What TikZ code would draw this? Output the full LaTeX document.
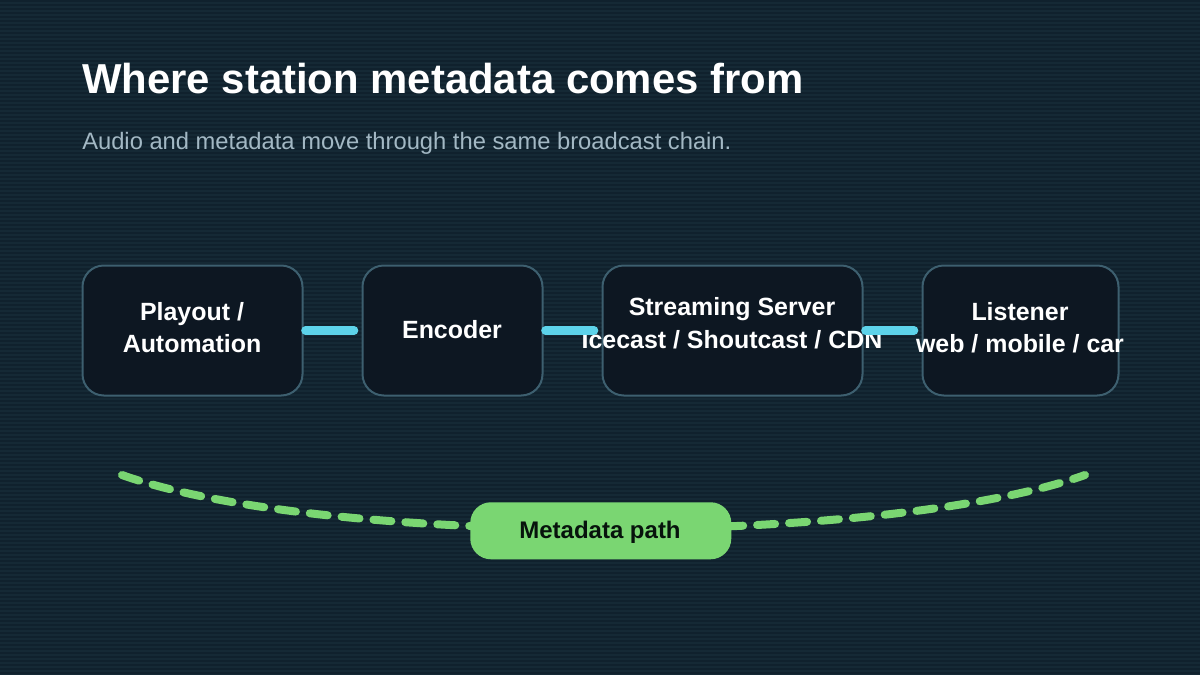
\documentclass[tikz,border=0pt]{standalone}
\usepackage{fontspec}
\setmainfont{Liberation Sans}
\definecolor{bgA}{HTML}{152935}
\definecolor{bgB}{HTML}{10212D}
\definecolor{boxfill}{HTML}{0D1722}
\definecolor{boxline}{HTML}{3D5F6F}
\definecolor{cyanline}{HTML}{5DD3EA}
\definecolor{greenline}{HTML}{7AD672}
\definecolor{subtext}{HTML}{A3B8C4}
\definecolor{darktext}{HTML}{07130C}
\tikzset{
  x=0.75pt,y=-0.75pt,
  stagebox/.style={draw=boxline,fill=boxfill,line width=1.5pt,rounded corners=16pt,inner sep=0,anchor=north west,minimum height=97.5pt},
  boxlabel/.style={text=white,inner sep=0,anchor=base,font=\bfseries\fontsize{18.7}{24}\selectfont},
  link/.style={draw=cyanline,line width=6.4pt,line cap=round,shorten <=1.5pt,shorten >=5.6pt},
  metapath/.style={draw=greenline,line width=6pt,line cap=round,dash pattern=on 13.5pt off 10.5pt},
  pill/.style={fill=greenline,rounded corners=15.5pt,inner sep=0,anchor=north west,minimum width=195.75pt,minimum height=42.75pt},
}
\begin{document}
\begin{tikzpicture}
\useasboundingbox (0,0) rectangle (1200,675);
\fill[bgA] (0,0) rectangle (1200,675);
\foreach \yy in {0,4,...,672} \fill[bgB] (0,\yy) rectangle (1200,\yy+2);
\node[anchor=base west,inner sep=0,text=white,font=\bfseries\fontsize{31.4}{36}\selectfont] (title) at (82,93) {Where station metadata comes from};
\node[anchor=base west,inner sep=0,text=subtext,font=\fontsize{17.8}{22}\selectfont] (subtitle) at (82,149.5) {Audio and metadata move through the same broadcast chain.};
\node[stagebox,minimum width=165pt] (play) at (81.5,264.5) {};
\node[stagebox,minimum width=135pt] (enc) at (361.5,264.5) {};
\node[stagebox,minimum width=195pt] (srv) at (601.5,264.5) {};
\node[stagebox,minimum width=147pt] (lis) at (921.5,264.5) {};
\node[boxlabel] (play1) at (192,320) {Playout /};
\node[boxlabel] (play2) at (192,352) {Automation};
\node[boxlabel] (enc1) at (452,338) {Encoder};
\node[boxlabel] (srv1) at (732,315) {Streaming Server};
\node[boxlabel] (srv2) at (732,348) {Icecast / Shoutcast / CDN};
\node[boxlabel] (lis1) at (1020,320) {Listener};
\node[boxlabel] (lis2) at (1020,352) {web / mobile / car};
\draw[link] (play.east) -- (enc.west);
\draw[link] (enc.east) -- (srv.west);
\draw[link] (srv.east) -- (lis.west);
\coordinate (pathstart) at (122,475);
\coordinate (pathend) at (1085,475);
\coordinate (ctrlA) at (325,547);
\coordinate (ctrlB) at (882,547);
\draw[metapath] (pathstart) .. controls (ctrlA) and (ctrlB) .. (pathend);
\node[pill] (meta) at (470,502) {};
\node[inner sep=0,anchor=base,text=darktext,font=\bfseries\fontsize{18}{24}\selectfont] (metalabel) at (600,538) {Metadata path};
\end{tikzpicture}
\end{document}
